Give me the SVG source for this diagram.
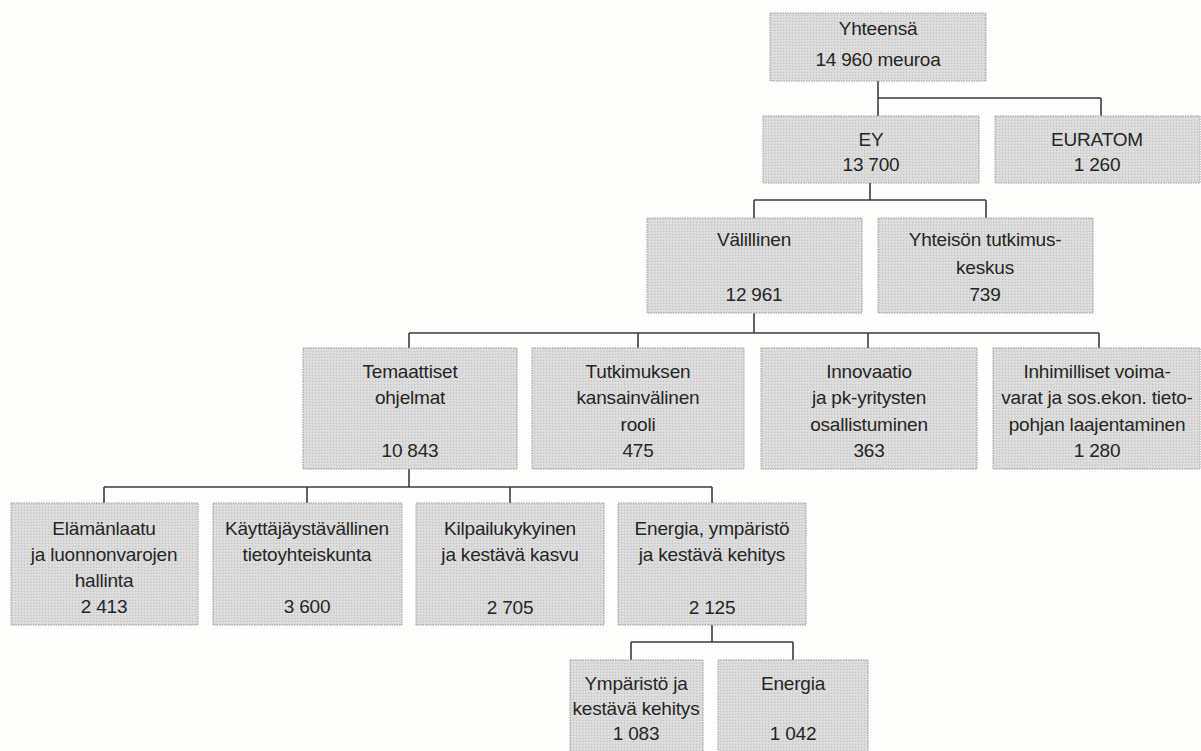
<svg xmlns="http://www.w3.org/2000/svg" width="1201" height="751" viewBox="0 0 1201 751">
<defs>
<pattern id="dots" width="3" height="3" patternUnits="userSpaceOnUse">
<rect width="3" height="3" fill="#dadada"/>
<rect x="0" y="0" width="1" height="1" fill="#c4c4c4"/>
<rect x="2" y="1" width="1" height="1" fill="#e6e6e6"/>
</pattern>
<style>
.box{fill:url(#dots);stroke:#9c9c9c;stroke-width:1;stroke-dasharray:1.5 1}
.t{font-family:"Liberation Sans",Arial,sans-serif;font-size:19px;fill:#262626;text-anchor:middle;letter-spacing:-0.2px}
.c{fill:none;stroke:#3c3c3c;stroke-width:1.6}
</style>
</defs>
<rect width="1201" height="751" fill="#fdfdfc"/>
<g id="connectors" class="c">
<path d="M878 81V98M878 98H1101M878 98V116M1101 98V116"/>
<path d="M870 183V200M754 200H986M754 200V218M986 200V218"/>
<path d="M754 313V333M409 333H1099M409 333V348M638 333V348M868 333V348M1099 333V348"/>
<path d="M409 469V487M104 487H712M104 487V503M307 487V503M510 487V503M712 487V503"/>
<path d="M712 625V642M631 642H793M631 642V660M793 642V660"/>
</g>
<g id="n-yhteensa"><rect class="box" x="770" y="13" width="216" height="68"/>
<text class="t" x="878" y="35">Yhteensä</text><text class="t" x="878" y="66">14 960 meuroa</text></g>
<g id="n-ey"><rect class="box" x="763" y="116" width="216" height="67"/>
<text class="t" x="871" y="146">EY</text><text class="t" x="871" y="171">13 700</text></g>
<g id="n-euratom"><rect class="box" x="995" y="116" width="205" height="67"/>
<text class="t" x="1097" y="146">EURATOM</text><text class="t" x="1097" y="171">1 260</text></g>
<g id="n-valillinen"><rect class="box" x="647" y="218" width="215" height="95"/>
<text class="t" x="754" y="246">Välillinen</text><text class="t" x="754" y="301">12 961</text></g>
<g id="n-yhteison"><rect class="box" x="878" y="218" width="215" height="95"/>
<text class="t" x="985" y="246">Yhteisön tutkimus-</text><text class="t" x="985" y="274">keskus</text><text class="t" x="985" y="301">739</text></g>
<g id="n-temaattiset"><rect class="box" x="303" y="348" width="214" height="121"/>
<text class="t" x="410" y="378">Temaattiset</text><text class="t" x="410" y="404">ohjelmat</text><text class="t" x="410" y="457">10 843</text></g>
<g id="n-tutkimuksen"><rect class="box" x="532" y="348" width="212" height="121"/>
<text class="t" x="638" y="378">Tutkimuksen</text><text class="t" x="638" y="404">kansainvälinen</text><text class="t" x="638" y="431">rooli</text><text class="t" x="638" y="457">475</text></g>
<g id="n-innovaatio"><rect class="box" x="761" y="348" width="216" height="121"/>
<text class="t" x="869" y="378">Innovaatio</text><text class="t" x="869" y="404">ja pk-yritysten</text><text class="t" x="869" y="431">osallistuminen</text><text class="t" x="869" y="457">363</text></g>
<g id="n-inhimilliset"><rect class="box" x="993" y="348" width="207" height="121"/>
<text class="t" x="1097" y="378">Inhimilliset voima-</text><text class="t" x="1097" y="404">varat ja sos.ekon. tieto-</text><text class="t" x="1097" y="431">pohjan laajentaminen</text><text class="t" x="1097" y="457">1 280</text></g>
<g id="n-elamanlaatu"><rect class="box" x="11" y="503" width="187" height="122"/>
<text class="t" x="104" y="535">Elämänlaatu</text><text class="t" x="104" y="561">ja luonnonvarojen</text><text class="t" x="104" y="587">hallinta</text><text class="t" x="104" y="613">2 413</text></g>
<g id="n-kayttaja"><rect class="box" x="213" y="503" width="189" height="122"/>
<text class="t" x="307" y="535">Käyttäjäystävällinen</text><text class="t" x="307" y="561">tietoyhteiskunta</text><text class="t" x="307" y="613">3 600</text></g>
<g id="n-kilpailu"><rect class="box" x="416" y="503" width="188" height="122"/>
<text class="t" x="510" y="535">Kilpailukykyinen</text><text class="t" x="510" y="561">ja kestävä kasvu</text><text class="t" x="510" y="614">2 705</text></g>
<g id="n-energia-ymp"><rect class="box" x="618" y="503" width="188" height="122"/>
<text class="t" x="712" y="535">Energia, ympäristö</text><text class="t" x="712" y="561">ja kestävä kehitys</text><text class="t" x="712" y="614">2 125</text></g>
<g id="n-ymparisto"><rect class="box" x="570" y="660" width="133" height="95"/>
<text class="t" x="636" y="690">Ympäristö ja</text><text class="t" x="636" y="715">kestävä kehitys</text><text class="t" x="636" y="740">1 083</text></g>
<g id="n-energia"><rect class="box" x="718" y="660" width="150" height="95"/>
<text class="t" x="793" y="690">Energia</text><text class="t" x="793" y="740">1 042</text></g>
</svg>
